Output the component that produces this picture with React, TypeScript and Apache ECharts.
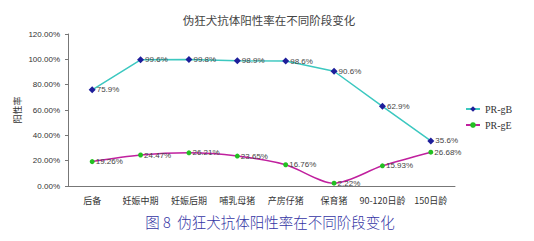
import React, { useEffect, useRef } from "react";
import * as echarts from "echarts";

const categories = ["后备", "妊娠中期", "妊娠后期", "哺乳母猪", "产房仔猪", "保育猪", "90-120日龄", "150日龄"];
const gB = [75.9, 99.6, 99.8, 98.9, 98.6, 90.6, 62.9, 35.6];
const gE = [19.26, 24.47, 26.21, 23.65, 16.76, 2.22, 15.93, 26.68];
const gBLabels = ["75.9%", "99.6%", "99.8%", "98.9%", "98.6%", "90.6%", "62.9%", "35.6%"];
const gELabels = ["19.26%", "24.47%", "26.21%", "23.65%", "16.76%", "2.22%", "15.93%", "26.68%"];

export default function App() {
  const ref = useRef<HTMLDivElement>(null);
  useEffect(() => {
    const chart = echarts.init(ref.current!, null, { renderer: "svg" });
    const labelStyle = (labels: string[]) => ({
      show: true,
      position: "right" as const,
      distance: 1,
      fontSize: 8,
      color: "#444",
      fontFamily: "Liberation Sans",
      formatter: (p: any) => labels[p.dataIndex],
    });
    chart.setOption({
      animation: false,
      backgroundColor: "#fff",
      title: [
        {
          text: "伪狂犬抗体阳性率在不同阶段变化",
          left: 264,
          top: 9,
          textAlign: "center",
          textStyle: { fontSize: 11.5, fontWeight: "normal", color: "#444", fontFamily: "Noto Sans CJK SC" },
        },
        {
          text: "图 8  伪狂犬抗体阳性率在不同阶段变化",
          left: 265,
          top: 209,
          textAlign: "center",
          textStyle: { fontSize: 14.5, fontWeight: 300, color: "#3434a4", fontFamily: "Noto Sans CJK SC" },
        },
      ],
      legend: {
        orient: "vertical",
        left: 460,
        top: 99,
        itemWidth: 14,
        itemHeight: 7,
        itemGap: 6,
        textStyle: { fontSize: 10, color: "#333", fontFamily: "Liberation Serif" },
        data: ["PR-gB", "PR-gE"],
      },
      grid: { left: 68, right: 79, top: 34, bottom: 55 },
      xAxis: {
        type: "category",
        data: categories,
        axisLine: { lineStyle: { color: "#777" } },
        axisTick: { inside: true, length: 3, lineStyle: { color: "#777" } },
        axisLabel: { fontSize: 9, color: "#333", fontFamily: "Noto Sans CJK SC", margin: 10, interval: 0 },
      },
      yAxis: {
        type: "value",
        min: 0,
        max: 120,
        interval: 20,
        name: "阳性率",
        nameLocation: "middle",
        nameRotate: 90,
        nameGap: 46,
        nameMoveOverlap: false,
        nameTextStyle: { fontSize: 9, color: "#333", fontFamily: "Noto Sans CJK SC" },
        axisLine: { show: true, lineStyle: { color: "#777" } },
        axisTick: { show: true, length: 3, lineStyle: { color: "#777" } },
        splitLine: { show: false },
        axisLabel: {
          fontSize: 8,
          color: "#333",
          fontFamily: "Liberation Sans",
          margin: 8,
          formatter: (v: number) => v.toFixed(2) + "%",
        },
      },
      series: [
        {
          name: "PR-gB",
          type: "line",
          data: gB,
          symbol: "diamond",
          symbolSize: 7,
          lineStyle: { color: "#3cc8c0", width: 1.5 },
          itemStyle: { color: "#1e1e9a" },
          label: labelStyle(gBLabels),
        },
        {
          name: "PR-gE",
          type: "line",
          data: gE,
          smooth: 0.3,
          symbol: "circle",
          symbolSize: 5,
          lineStyle: { color: "#c0209e", width: 1.5 },
          itemStyle: { color: "#22c022" },
          label: labelStyle(gELabels),
        },
      ],
    });
    return () => chart.dispose();
  }, []);
  return <div ref={ref} style={{ width: 534, height: 241, margin: -8 }} />;
}
